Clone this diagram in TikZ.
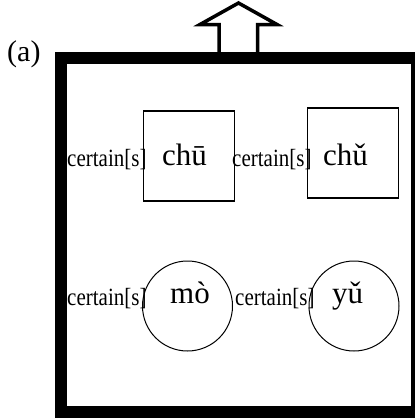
\documentclass[tikz,border=0pt]{standalone}
\usepackage{fontspec}
\setmainfont{Liberation Serif}
\begin{document}
\begin{tikzpicture}[x=1pt,y=-1pt,
  lbl/.style={inner sep=0pt,anchor=base west,font=\fontsize{21}{21}\selectfont},
  syl/.style={inner sep=0pt,anchor=base,font=\fontsize{31}{31}\selectfont},
  sq/.style={draw,line width=1.3pt,minimum width=91pt,minimum height=90pt,inner sep=0pt},
  cir/.style={draw,circle,line width=1pt,minimum size=90pt,inner sep=0pt},
  frame/.style={line width=12pt,line join=miter},
  bigarrow/.style={draw,fill=white,line width=3.5pt,line join=miter}]
\useasboundingbox (0,0) rectangle (415,418);
% arrow on top
\draw[bigarrow] (219,53) -- (219,24.5) -- (200,24.5) -- (238.5,3) -- (277,24.5) -- (257.5,24.5) -- (257.5,53);
% frame
\draw[frame] (61,57.5) rectangle (417,412);
\node[inner sep=0pt,anchor=base west,font=\fontsize{30}{30}\selectfont] (lab) at (7,61) {(a)};
% shapes
\node[sq] (s1) at (188.8,156) {};
\node[sq] (s2) at (353,153) {};
\node[cir] (c1) at (187.5,306) {};
\node[cir] (c2) at (354,306) {};
% syllables
\node[syl] (t1) at (184.5,165) {chū};
\node[syl] (t2) at (345.5,165) {chǔ};
\node[syl] (t3) at (190,303) {mò};
\node[syl] (t4) at (347.5,303) {yǔ};
% labels
\node[lbl] (l1) at (67,166) {\scalebox{1}[1.18]{certain[s]}};
\node[lbl] (l2) at (232,166) {\scalebox{1}[1.18]{certain[s]}};
\node[lbl] (l3) at (67,305) {\scalebox{1}[1.18]{certain[s]}};
\node[lbl] (l4) at (235,305) {\scalebox{1}[1.18]{certain[s]}};
\end{tikzpicture}
\end{document}
